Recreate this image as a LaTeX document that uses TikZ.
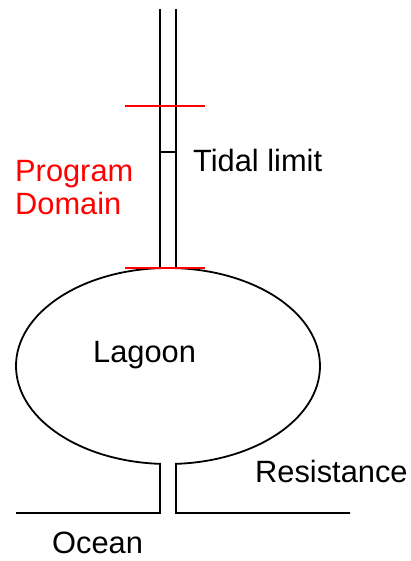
\documentclass[tikz,border=0pt]{standalone}
\usepackage{fontspec}
\setmainfont{Liberation Sans}
\begin{document}
\begin{tikzpicture}[x=1pt,y=1pt,
  wall/.style={draw=black,line width=1.8pt,line join=miter},
  marker/.style={draw=red,line width=1.8pt},
  label/.style={inner sep=0pt,anchor=base west,font=\fontsize{30.8}{33}\selectfont},
  redlabel/.style={label,text=red}]
\useasboundingbox (0,0) rectangle (411,561);

% channel reaching up from the lagoon
\coordinate (chL top) at (160,552);
\coordinate (chR top) at (176,552);
\coordinate (chL bot) at (160,293);
\coordinate (chR bot) at (176,293);
\draw[wall] (chL top) -- (chL bot);
\draw[wall] (chR top) -- (chR bot);

% tidal limit rung
\coordinate (tideL) at (160,409);
\coordinate (tideR) at (176,409);
\draw[wall] (tideL) -- (tideR);

% lagoon with its inlet and the ocean shore
\coordinate (oceanL) at (16,48);
\coordinate (oceanR) at (350,48);
\coordinate (inletL) at (160,48);
\coordinate (inletR) at (176,48);
\draw[wall] (oceanR) -- (inletR) -- (176,97.14)
  arc[start angle=273.02,end angle=626.98,x radius=152,y radius=98]
  -- (inletL) -- (oceanL);

% program domain limits
\coordinate (dom top W) at (125,455);
\coordinate (dom top E) at (205,455);
\coordinate (dom bot W) at (125,293);
\coordinate (dom bot E) at (205,293);
\draw[marker] (dom top W) -- (dom top E);
\draw[marker] (dom bot W) -- (dom bot E);

% labels
\node[label] (tidal) at (193,389) {Tidal limit};
\node[redlabel] (prog) at (15,379) {Program};
\node[redlabel] (dom) at (15,346) {Domain};
\node[label] (lagoon) at (93,198) {Lagoon};
\node[label] (resist) at (255,78) {Resistance};
\node[label] (ocean) at (52,7) {Ocean};
\end{tikzpicture}
\end{document}
